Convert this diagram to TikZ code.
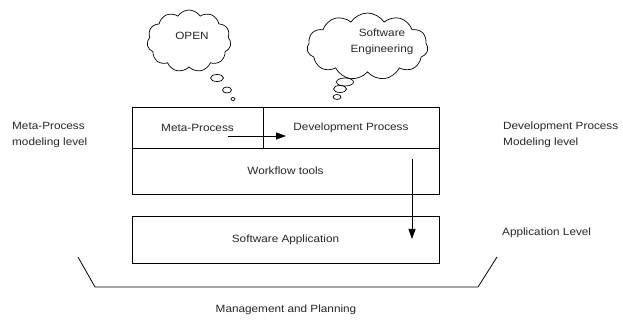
\documentclass[tikz,border=0pt]{standalone}
\usepackage{fontspec}
\setmainfont[FakeStretch=1.12]{Liberation Sans}
\usetikzlibrary{shapes.symbols,shapes.geometric,arrows.meta}
\begin{document}
\begin{tikzpicture}[x=1pt,y=-1pt,
  every node/.style={font=\fontsize{10.5}{16}\selectfont, text=black!85},
  layerbox/.style={draw, line width=0.8pt, inner sep=0pt},
  thought/.style={cloud, draw, line width=0.7pt, cloud puffs=11, cloud puff arc=115, inner sep=0pt},
  bubble/.style={ellipse, draw, line width=0.7pt, inner sep=0pt},
  flow/.style={line width=0.8pt, -{Triangle[length=10pt,width=7pt]}},
  sidelabel/.style={anchor=west, align=left, inner sep=0pt}]
\useasboundingbox (0,0) rectangle (623,320);
% layer boxes
\node[layerbox, minimum width=131pt, minimum height=41pt] (meta) at (197.5,127.5) {Meta-Process};
\node[layerbox, minimum width=176pt, minimum height=41pt] (dev) at (351,127.5) {Development Process};
\node[layerbox, minimum width=307pt, minimum height=46pt] (wf) at (285.5,171) {Workflow tools};
\node[layerbox, minimum width=307pt, minimum height=47pt] (app) at (285.5,239.5) {Software Application};
% arrows
\coordinate (h1) at (228,136);
\coordinate (h2) at (286,136);
\coordinate (v1) at (412,159);
\coordinate (v2) at (412,239);
\draw[flow] (h1) -- (h2);
\draw[flow] (v1) -- (v2);
% clouds
\node[thought, minimum width=84pt, minimum height=62pt] (c1) at (189,41) {};
\node (t1) at (192,36) {OPEN};
\node[bubble, minimum width=13pt, minimum height=7pt] (b11) at (217,78) {};
\node[bubble, minimum width=9pt, minimum height=6pt] (b12) at (227,90) {};
\node[bubble, minimum width=4pt, minimum height=3pt] (b13) at (233,99) {};
\node[thought, minimum width=121pt, minimum height=67pt] (c2) at (367.5,46.5) {};
\node[align=center, inner sep=0pt] (t2) at (382,42) {Software\\Engineering};
\node[bubble, minimum width=17pt, minimum height=8pt] (b21) at (345,82) {};
\node[bubble, minimum width=13pt, minimum height=7pt] (b22) at (340,89) {};
\node[bubble, minimum width=8pt, minimum height=5pt] (b23) at (337,97) {};
% side labels
\node[sidelabel] (l1) at (12,135) {Meta-Process\\modeling level};
\node[sidelabel] (l2) at (503,135) {Development Process\\Modeling level};
\node[sidelabel] (l3) at (502,233) {Application Level};
% bracket
\draw[line width=0.8pt] (78,257) -- (95,287) -- (478,287) -- (497,257);
\node (mp) at (286,310) {Management and Planning};
\end{tikzpicture}
\end{document}
